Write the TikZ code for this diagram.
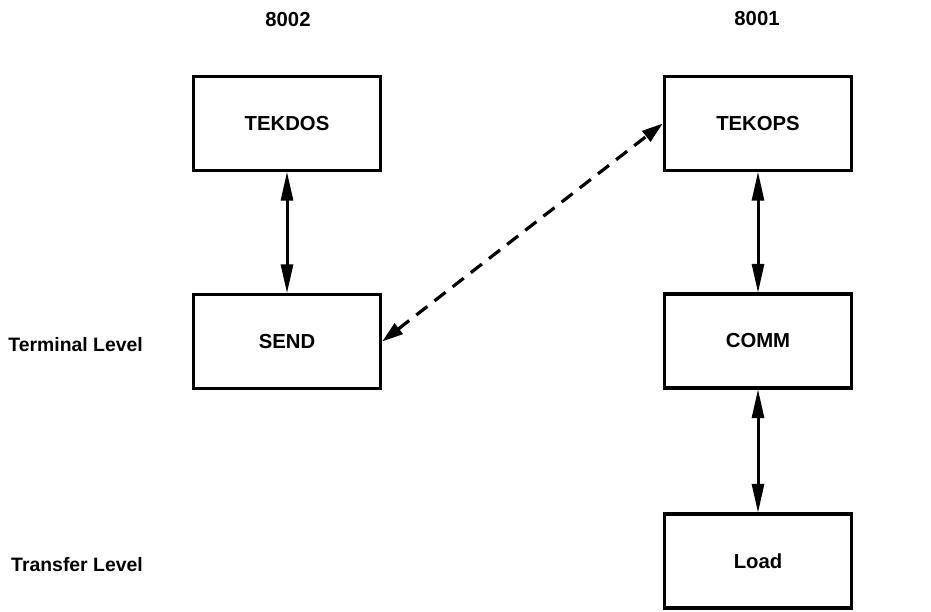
\documentclass[tikz,border=0pt]{standalone}
\usepackage{fontspec}
\setmainfont{Liberation Sans}
\usetikzlibrary{arrows.meta}
\begin{document}
\begin{tikzpicture}[x=1pt,y=-1pt,
  txt/.style={font=\fontsize{20.3}{24}\selectfont\bfseries, inner sep=0pt},
  lvl/.style={font=\fontsize{19.4}{23}\selectfont\bfseries, inner sep=0pt, anchor=east},
  blk/.style={draw, line width=3.4pt, minimum width=187pt, minimum height=94pt, txt, inner sep=0pt},
  solidarrow/.style={line width=3pt, {Triangle[length=29pt,width=12pt]}-{Triangle[length=29pt,width=12pt]}, shorten <=-0.5pt, shorten >=-0.5pt},
  dasharrow/.style={line width=3.2pt, dash pattern=on 14pt off 9pt, {Triangle[length=21pt,width=13pt]}-{Triangle[length=21pt,width=13pt]}}
]
\useasboundingbox (0,0) rectangle (931,612);
\node[txt] (h2) at (288,20) {8002};
\node[txt] (h1) at (757,19) {8001};
\node[lvl] (lt) at (143,345) {Terminal Level};
\node[lvl] (lx) at (143,565) {Transfer Level};
\node[blk] (tekdos) at (287,123.5) {TEKDOS};
\node[blk] (send) at (287,341.5) {SEND};
\node[blk] (tekops) at (758,123.5) {TEKOPS};
\node[blk] (comm) at (758,341) {COMM};
\node[blk] (load) at (758,561) {Load};
\draw[solidarrow] (tekdos.south) -- (send.north);
\draw[solidarrow] (tekops.south) -- (comm.north);
\draw[solidarrow] (comm.south) -- (load.north);
\draw[dasharrow] (send.east) -- (tekops.west);
\end{tikzpicture}
\end{document}
